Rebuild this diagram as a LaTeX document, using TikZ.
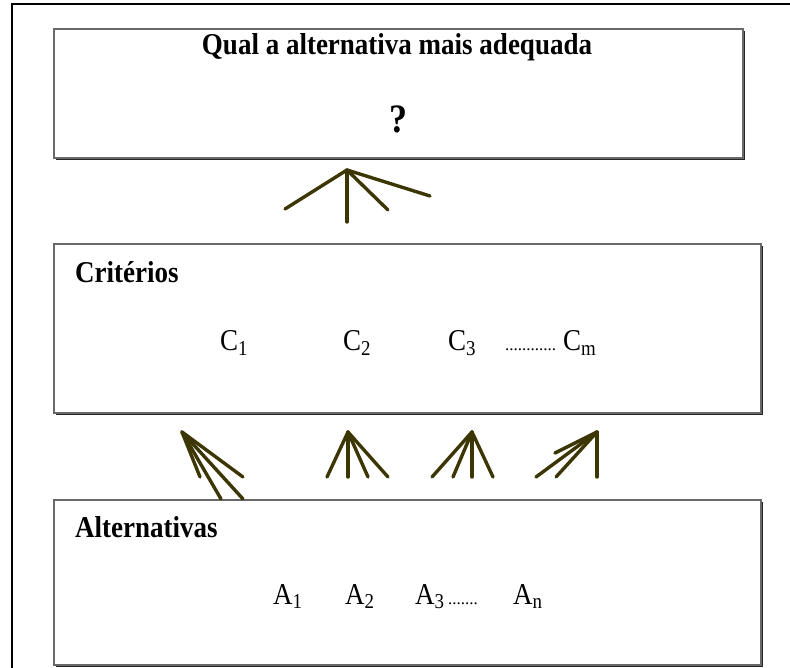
\documentclass[tikz,border=0pt]{standalone}
\usepackage{fontspec}
\setmainfont{Liberation Serif}
\usetikzlibrary{positioning, shadows}
\definecolor{FanOlive}{RGB}{60,54,4}
\definecolor{BoxEdge}{RGB}{105,105,105}
\newcommand{\tallprint}[1]{\scalebox{1}[1.12]{#1}}

\begin{document}
\begin{tikzpicture}[
    x=1pt, y=-1pt,
    every node/.style={inner sep=0pt},
    levelbox/.style={draw=BoxEdge, line width=2pt, fill=white, rectangle, anchor=north west,
      drop shadow={shadow xshift=2.2pt, shadow yshift=-2.2pt, fill=black!85, opacity=1}},
    heading/.style={font=\fontsize{27}{32}\selectfont\bfseries, anchor=base west},
    item/.style={font=\fontsize{27}{32}\selectfont, anchor=base west},
    dotrun/.style={font=\fontsize{17}{20}\selectfont, anchor=base west},
    fan/.style={draw=FanOlive, line width=3.4pt, line cap=round, line join=round}
  ]
    \useasboundingbox (0,0) rectangle (790,668);
    \draw[line width=2pt] (12,668) -- (12,4) -- (790,4);

    \node[levelbox, minimum width=689pt, minimum height=129pt] (goal) at (53,28) {};
    \node[levelbox, minimum width=707pt, minimum height=169pt] (crit) at (53,243) {};
    \node[levelbox, minimum width=707pt, minimum height=165pt] (alt) at (53,499) {};

    \node[heading, anchor=base] (question) at (397,55) {\tallprint{Qual a alternativa mais adequada}};
    \node[heading, font=\fontsize{36}{40}\selectfont\bfseries, anchor=base] (mark) at (398,133) {\tallprint{?}};

    \node[heading] (critlabel) at (75,283) {\tallprint{Critérios}};
    \node[item] (c1) at (220,351) {\tallprint{C\textsubscript{1}}};
    \node[item] (c2) at (343,351) {\tallprint{C\textsubscript{2}}};
    \node[item] (c3) at (448,351) {\tallprint{C\textsubscript{3}}};
    \node[dotrun] (cdots) at (505,351) {............};
    \node[item] (cm) at (563,351) {\tallprint{C\textsubscript{m}}};

    \node[heading] (altlabel) at (75,537) {\tallprint{Alternativas}};
    \node[item] (a1) at (273,604) {\tallprint{A\textsubscript{1}}};
    \node[item] (a2) at (345,604) {\tallprint{A\textsubscript{2}}};
    \node[item] (a3) at (415,604) {\tallprint{A\textsubscript{3}}};
    \node[dotrun] (adots) at (448,604) {.......};
    \node[item] (an) at (513,604) {\tallprint{A\textsubscript{n}}};

    \coordinate (goalfan) at (347,170);
    \draw[fan] (goalfan) -- ++(-62,39);
    \draw[fan] (goalfan) -- ++(0,52);
    \draw[fan] (goalfan) -- ++(41,40);
    \draw[fan] (goalfan) -- ++(83,26);

    \coordinate (fan1) at (182,432);
    \foreach \dx/\dy in {18/45, 61/45, 39/67, 61/67}
      \draw[fan] (fan1) -- ++(\dx,\dy);
    \coordinate (fan2) at (348,432);
    \foreach \dx/\dy in {-21/45, 0/45, 20/45, 40/45}
      \draw[fan] (fan2) -- ++(\dx,\dy);
    \coordinate (fan3) at (472,432);
    \foreach \dx/\dy in {-40/45, -19/45, 0/45, 21/45}
      \draw[fan] (fan3) -- ++(\dx,\dy);
    \coordinate (fan4) at (597,432);
    \foreach \dx/\dy in {-61/45, -41/45, 0/45, -42/21}
      \draw[fan] (fan4) -- ++(\dx,\dy);
\end{tikzpicture}
\end{document}
